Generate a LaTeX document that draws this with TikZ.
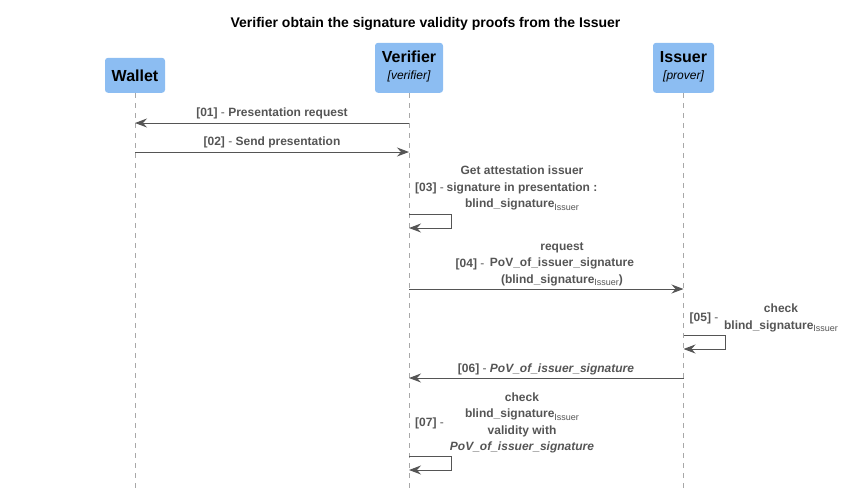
\documentclass[tikz,border=0pt]{standalone}
\usepackage{fontspec}
\setmainfont{Liberation Sans}
\usetikzlibrary{arrows.meta}
\definecolor{actorfill}{HTML}{8CBDF2}
\definecolor{msgcol}{HTML}{555555}
\definecolor{lifecol}{HTML}{A8A8A8}
\newcommand{\Iss}{\raisebox{-2.5pt}{\fontsize{9}{9}\selectfont\mdseries Issuer}}
\begin{document}
\begin{tikzpicture}[x=1pt,y=-1pt,
  actor/.style={fill=actorfill, rounded corners=3pt, draw=none, align=center, inner sep=0pt, anchor=south},
  lifeline/.style={draw=lifecol, line width=0.8pt, dash pattern=on 5pt off 5pt},
  msgline/.style={draw=msgcol, line width=1pt, -{Stealth[length=12pt,width=9pt,inset=4pt]}},
  lbl/.style={text=msgcol, font=\fontsize{12}{16.5}\selectfont\bfseries, inner sep=0pt, align=center},
  pre/.style={text=msgcol, font=\fontsize{12}{16.5}\selectfont, inner sep=0pt, anchor=west}
]
\useasboundingbox (0,0) rectangle (845,493);
\node[font=\fontsize{14}{16}\selectfont\bfseries, inner sep=0pt] (title) at (425.5,24) {Verifier obtain the signature validity proofs from the Issuer};

\node[actor, minimum width=60pt, minimum height=35pt, font=\fontsize{16}{18}\selectfont\bfseries] (wallet) at (135,93) {\raisebox{-1pt}{Wallet}};
\node[actor, minimum width=68pt, minimum height=50pt, font=\fontsize{12}{17}\selectfont] (verifier) at (409,93) {\raisebox{-3.5pt}{\begin{tabular}{@{}c@{}}{\fontsize{16}{17}\selectfont\bfseries Verifier}\\{\itshape [verifier]}\end{tabular}}};
\node[actor, minimum width=61pt, minimum height=50pt, font=\fontsize{12}{17}\selectfont] (issuer) at (683.5,93) {\raisebox{-3.5pt}{\begin{tabular}{@{}c@{}}{\fontsize{16}{17}\selectfont\bfseries Issuer}\\{\itshape [prover]}\end{tabular}}};

\coordinate (wend) at (135,488);
\coordinate (vend) at (409,488);
\coordinate (iend) at (683.5,488);
\draw[lifeline] (wallet.south) -- (wend);
\draw[lifeline] (verifier.south) -- (vend);
\draw[lifeline] (issuer.south) -- (iend);

% 01
\coordinate (v1) at (409,123); \coordinate (w1) at (135,123);
\draw[msgline] (v1) -- (w1);
\node[lbl] (l1) at (272,113.5) {[01]\mdseries{} - \bfseries Presentation request};
% 02
\coordinate (w2) at (135,152); \coordinate (v2) at (409,152);
\draw[msgline] (w2) -- (v2);
\node[lbl] (l2) at (272,142.5) {[02]\mdseries{} - \bfseries Send presentation};
% 03
\coordinate (v3a) at (409,214); \coordinate (v3b) at (451,214); \coordinate (v3c) at (451,228); \coordinate (v3d) at (409,228);
\draw[msgline] (v3a) -- (v3b) -- (v3c) -- (v3d);
\node[pre] (p3) at (415,188) {\bfseries[03]\mdseries{} -};
\node[lbl] (l3) at (522,188) {Get attestation issuer\\signature in presentation :\\blind\_signature\Iss};
% 04
\coordinate (v4) at (409,289); \coordinate (i4) at (683.5,289);
\draw[msgline] (v4) -- (i4);
\node[pre] (p4) at (455.5,264) {\bfseries[04]\mdseries{} -};
\node[lbl] (l4) at (562,264) {request\\PoV\_of\_issuer\_signature\\(blind\_signature\Iss)};
% 05
\coordinate (i5a) at (683.5,335); \coordinate (i5b) at (725,335); \coordinate (i5c) at (725,349); \coordinate (i5d) at (683.5,349);
\draw[msgline] (i5a) -- (i5b) -- (i5c) -- (i5d);
\node[pre] (p5) at (689.5,318.5) {\bfseries[05]\mdseries{} -};
\node[lbl] (l5) at (781,318) {check\\blind\_signature\Iss};
% 06
\coordinate (i6) at (683.5,378); \coordinate (v6) at (409,378);
\draw[msgline] (i6) -- (v6);
\node[lbl] (l6) at (546,369.5) {[06]\mdseries{} - \bfseries\itshape PoV\_of\_issuer\_signature};
% 07
\coordinate (v7a) at (409,456); \coordinate (v7b) at (451,456); \coordinate (v7c) at (451,470); \coordinate (v7d) at (409,470);
\draw[msgline] (v7a) -- (v7b) -- (v7c) -- (v7d);
\node[pre] (p7) at (415,423) {\bfseries[07]\mdseries{} -};
\node[lbl] (l7) at (522,423) {check\\blind\_signature\Iss\\validity with\\\itshape PoV\_of\_issuer\_signature};
\end{tikzpicture}
\end{document}
